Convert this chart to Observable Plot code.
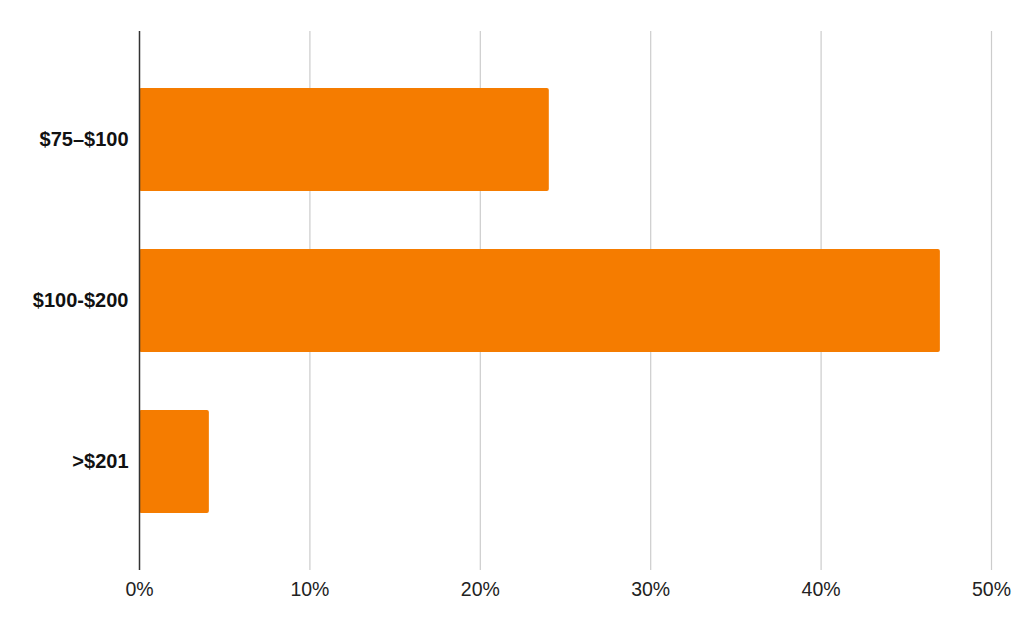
<!DOCTYPE html>
<html>
<head>
<meta charset="utf-8">
<script src="https://cdn.jsdelivr.net/npm/d3@7"></script>
<script src="https://cdn.jsdelivr.net/npm/@observablehq/plot@0.6"></script>
<style>
  html, body { margin: 0; padding: 0; background: #fff; }
  svg { display: block; }
</style>
</head>
<body>
<div id="chart"></div>
<script>
const categories = ["$75–$100", "$100-$200", ">$201"];
const shares = [24.05, 47.0, 4.1];
const xTicks = [0, 10, 20, 30, 40, 50];

const data = categories.map((c, i) => ({ category: c, share: shares[i] }));

const chart = Plot.plot({
  width: 1024,
  height: 633,
  marginLeft: 139,
  marginRight: 33,
  marginTop: 31,
  marginBottom: 63,
  style: { fontFamily: "Arial, 'Liberation Sans', sans-serif", fontSize: "19px", color: "#222", background: "#fff" },
  x: { domain: [0, 50], ticks: xTicks, tickFormat: d => d + "%", label: null },
  y: { domain: categories, paddingInner: 0.362, paddingOuter: 0.35, label: null },
  marks: [
    Plot.ruleX(xTicks.filter(d => d > 0), { stroke: "#cccccc", strokeWidth: 1.2 }),
    Plot.barX(data, { x: "share", y: "category", fill: "#f57c00", rx: 2 }),
    Plot.ruleX([0], { stroke: "#333", strokeWidth: 1.5 }),
    Plot.axisX({ ticks: xTicks, tickFormat: d => d + "%", tickSize: 0, tickPadding: 12, fontSize: 19.5, fill: "#222", label: null }),
    Plot.axisY({ tickSize: 0, tickPadding: 11, fontSize: 20, fontWeight: "bold", fill: "#111", label: null })
  ]
});
document.getElementById("chart").appendChild(chart);
</script>
</body>
</html>
